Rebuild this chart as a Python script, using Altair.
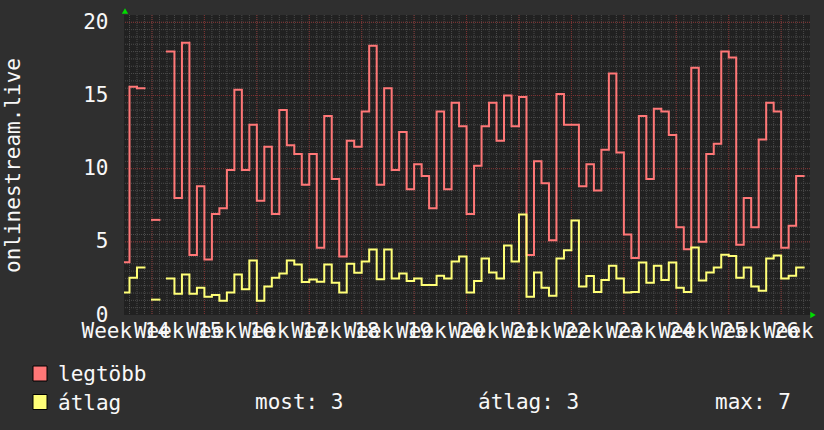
import altair as alt
import pandas as pd

# ---- data (daily values, day index relative to first full day) ----
days = list(range(-1, 90))
legtobb = [
    3.6, 15.6, 15.5, None, 6.5, None, 18.0, 8.0, 18.6, 4.1,
    8.8, 3.8, 6.9, 7.3, 9.9, 15.4, 9.9, 13.0, 7.8, 11.5,
    6.9, 14.0, 11.6, 11.0, 8.9, 11.0, 4.6, 13.6, 9.3, 4.0,
    11.9, 11.5, 13.9, 18.4, 8.9, 15.5, 9.9, 12.5, 8.6, 10.3,
    9.5, 7.3, 13.9, 8.6, 14.5, 12.9, 6.9, 10.2, 12.9, 14.5,
    11.9, 15.0, 12.9, 14.9, 4.1, 10.5, 9.0, 5.1, 15.1, 13.0,
    13.0, 8.8, 10.3, 8.5, 11.3, 16.5, 11.1, 5.5, 3.9, 13.6,
    9.3, 14.1, 13.9, 12.3, 6.0, 4.5, 16.9, 5.0, 11.0, 11.7,
    18.0, 17.6, 4.8, 8.0, 6.0, 12.0, 14.5, 13.9, 4.6, 6.1,
    9.5,
]
atlag = [
    1.53, 2.55, 3.24, None, 1.05, None, 2.49, 1.46, 2.76, 1.46,
    1.87, 1.25, 1.37, 0.98, 1.53, 2.76, 1.76, 3.72, 0.98, 1.94,
    2.55, 2.83, 3.72, 3.45, 2.26, 2.42, 2.28, 3.45, 2.21, 1.53,
    3.51, 2.88, 3.65, 4.47, 2.44, 4.47, 2.49, 2.83, 2.33, 2.49,
    2.05, 2.05, 2.69, 2.49, 3.65, 3.99, 1.53, 2.33, 3.86, 2.90,
    2.49, 4.75, 3.65, 6.87, 1.25, 2.90, 1.87, 1.32, 3.86, 4.43,
    6.46, 1.94, 2.67, 1.58, 2.40, 3.36, 2.49, 1.53, 1.58, 3.58,
    2.21, 3.36, 2.40, 3.58, 1.87, 1.58, 4.61, 2.35, 2.90, 3.24,
    4.11, 4.04, 2.55, 3.24, 1.94, 1.66, 3.86, 4.06, 2.49, 2.69,
    3.24,
]
series_names = ["legtöbb", "átlag"]
series_colors = ["#ff7777", "#ffff77"]
week_labels = ["Week %d" % w for w in range(14, 28)]
first_week_start = -4          # day index where "Week 14" begins
y_ticks = [0, 5, 10, 15, 20]
y_title = "onlinestream.live"
stat_names = ["most", "átlag", "max"]

FONT = "DejaVu Sans Mono"
FS = 21
TXT = "#f8f8f8"
X_DOMAIN = [-0.734, 90.85]
Y_DOMAIN = [0, 20.5]
W, H = 686, 300

# ---- build step-line table ----
rows = []
i = 0
for name, vals in zip(series_names, [legtobb, atlag]):
    seg = 0
    for d, v in zip(days, vals):
        if v is None:
            seg += 1
            continue
        for xx in (d, d + 1):
            rows.append({"series": name, "seg": f"{name}-{seg}", "x": xx, "y": v, "i": i})
            i += 1
lines_df = pd.DataFrame(rows)

xs = alt.Scale(domain=X_DOMAIN, nice=False, zero=False)
ys = alt.Scale(domain=Y_DOMAIN, nice=False, zero=False)
y_axis = alt.Axis(
    values=y_ticks, ticks=False, domain=False, grid=False,
    labelFont=FONT, labelFontSize=FS, labelColor=TXT, labelPadding=16,
    title=y_title, titleFont=FONT, titleFontSize=FS, titleColor=TXT,
    titleFontWeight="normal", titleAngle=270, titleX=-111, titleY=150,
    titleAlign="center", titleBaseline="middle")

# ---- grid ----
minor_v = pd.DataFrame({"x": list(range(0, 91))})
major_v = pd.DataFrame({"x": [first_week_start + 7 * k for k in range(1, 14)]})
minor_h = pd.DataFrame({"y": [k * 0.5 for k in range(1, 41)]})
major_h = pd.DataFrame({"y": y_ticks[1:]})

GMIN = "#4b4b4b"
GMAJ = "#7f3030"
g_minor_v = alt.Chart(minor_v).mark_rule(color=GMIN, strokeDash=[1, 1], strokeWidth=1).encode(
    x=alt.X("x:Q", scale=xs, axis=None))
g_minor_h = alt.Chart(minor_h).mark_rule(color=GMIN, strokeDash=[1, 1], strokeWidth=1).encode(
    y=alt.Y("y:Q", scale=ys, axis=y_axis))
g_major_v = alt.Chart(major_v).mark_rule(color=GMAJ, strokeDash=[1, 1], strokeWidth=1).encode(
    x=alt.X("x:Q", scale=xs, axis=None))
g_major_h = alt.Chart(major_h).mark_rule(color=GMAJ, strokeDash=[1, 1], strokeWidth=1).encode(
    y=alt.Y("y:Q", scale=ys, axis=y_axis))

# ---- series ----
lines = alt.Chart(lines_df).mark_line(strokeWidth=2, clip=True, strokeJoin="miter", strokeCap="square").encode(
    x=alt.X("x:Q", scale=xs, axis=None),
    y=alt.Y("y:Q", scale=ys, axis=y_axis),
    color=alt.Color("series:N", scale=alt.Scale(domain=series_names, range=series_colors), legend=None),
    detail="seg:N",
    order=alt.Order("i:Q"),
)

# ---- x labels (centred mid-week, overlapping like the original) ----
wk_df = pd.DataFrame({"label": week_labels,
                      "x": [first_week_start + 3.5 + 7 * k for k in range(len(week_labels))]})
xlabels = alt.Chart(wk_df).mark_text(font=FONT, fontSize=FS, color=TXT, align="center",
                                     baseline="alphabetic").encode(
    x=alt.X("x:Q", scale=xs, axis=None), y=alt.value(323), text="label:N")

# ---- arrows ----
one = pd.DataFrame({"a": [0]})
arrow_up = alt.Chart(one).mark_point(shape="triangle-up", filled=True, color="#00dd00", size=40, opacity=1).encode(
    x=alt.value(1), y=alt.value(-4))
arrow_right = alt.Chart(one).mark_point(shape="triangle-right", filled=True, color="#00dd00", size=40, opacity=1).encode(
    x=alt.value(689), y=alt.value(300))

# ---- legend ----
valid_avg = [v for v in atlag if v is not None]
stat_vals = [valid_avg[-1], sum(valid_avg) / len(valid_avg), max(valid_avg)]
stat_texts = ["%s: %.0f" % (n, v) for n, v in zip(stat_names, stat_vals)]

leg_layers = []
for k, (name, col) in enumerate(zip(series_names, series_colors)):
    ytop = 351 + 28.5 * k
    leg_layers.append(alt.Chart(one).mark_rect(fill=col, stroke="#000000", strokeWidth=1).encode(
        x=alt.value(-91), x2=alt.value(-77), y=alt.value(ytop), y2=alt.value(ytop + 15)))
    leg_layers.append(alt.Chart(pd.DataFrame({"t": [name]})).mark_text(
        font=FONT, fontSize=FS, color=TXT, align="left", baseline="alphabetic").encode(
        x=alt.value(-66), y=alt.value(ytop + 15), text="t:N"))
for t, xpos in zip(stat_texts, [131, 354, 591]):
    leg_layers.append(alt.Chart(pd.DataFrame({"t": [t]})).mark_text(
        font=FONT, fontSize=FS, color=TXT, align="left", baseline="alphabetic").encode(
        x=alt.value(xpos), y=alt.value(394), text="t:N"))

chart = alt.layer(
    g_minor_v, g_minor_h, g_major_v, g_major_h, lines, xlabels, arrow_up, arrow_right, *leg_layers
).properties(
    width=W, height=H,
    autosize="none",
    padding={"left": 124, "top": 15, "right": 14, "bottom": 115},
    background="#2f2f2f",
).configure_view(fill="#212121", stroke=None)

chart.save("out.html", embed_options={"renderer": "svg", "actions": False})
